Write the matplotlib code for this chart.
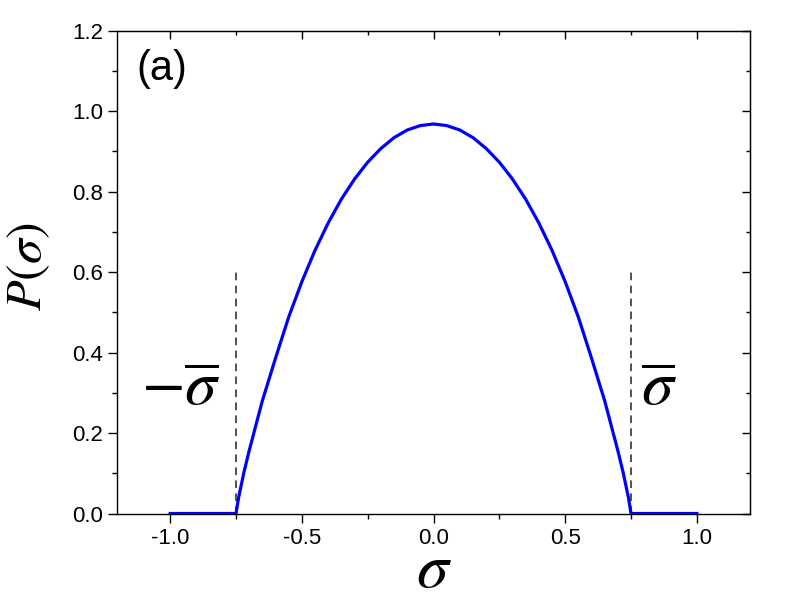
"""Panel (a): distribution P(sigma), bounded at +/- sigma-bar."""
import matplotlib

matplotlib.use("Agg")

import matplotlib.pyplot as plt
from matplotlib.ticker import FixedLocator, MultipleLocator

# values
SIGMA = [-1.0, -0.75, -0.74, -0.72, -0.70, -0.65, -0.60, -0.55, -0.50, -0.45,
         -0.40, -0.35, -0.30, -0.25, -0.20, -0.15, -0.10, -0.05, 0.0,
         0.05, 0.10, 0.15, 0.20, 0.25, 0.30, 0.35, 0.40, 0.45, 0.50,
         0.55, 0.60, 0.65, 0.70, 0.72, 0.74, 0.75, 1.0]
P_SIGMA = [0.0, 0.0, 0.040, 0.102, 0.156, 0.280, 0.386, 0.488, 0.576, 0.654,
           0.722, 0.781, 0.831, 0.873, 0.907, 0.934, 0.953, 0.964, 0.968,
           0.964, 0.953, 0.934, 0.907, 0.873, 0.831, 0.781, 0.722, 0.654, 0.576,
           0.488, 0.386, 0.280, 0.156, 0.102, 0.040, 0.0, 0.0]
SIGMA_BAR = 0.75
BAR_HEIGHT = 0.6
X_TICKS = [-1.0, -0.5, 0.0, 0.5, 1.0]
Y_TICKS = [0.0, 0.2, 0.4, 0.6, 0.8, 1.0, 1.2]

plt.rcParams["font.family"] = ["Liberation Sans", "DejaVu Sans"]
plt.rcParams["mathtext.fontset"] = "stix"
plt.rcParams["axes.unicode_minus"] = False

fig = plt.figure(figsize=(7.89, 6.04), dpi=100)
ax = fig.add_axes([0.1489, 0.1498, 0.8011, 0.7995])

ax.plot(SIGMA, P_SIGMA, color="#0000ff", linewidth=2.3, zorder=3,
        solid_joinstyle="round")
for xb in (-SIGMA_BAR, SIGMA_BAR):
    ax.plot([xb, xb], [0, BAR_HEIGHT], color="#222222", linewidth=1.1,
            dashes=(5, 3.5), zorder=2)

ax.set_xlim(-1.2, 1.2)
ax.set_ylim(0, 1.2)
ax.xaxis.set_major_locator(FixedLocator(X_TICKS))
ax.xaxis.set_minor_locator(MultipleLocator(0.25))
ax.yaxis.set_major_locator(FixedLocator(Y_TICKS))
ax.yaxis.set_minor_locator(MultipleLocator(0.1))
ax.set_xticklabels([f"{v:.1f}" for v in X_TICKS])
ax.set_yticklabels([f"{v:.1f}" for v in Y_TICKS])

# bottom/left ticks point out, top/right ones point in
ax.tick_params(which="major", direction="out", length=6.5, width=1.0,
               labelsize=16, pad=4)
ax.tick_params(which="minor", direction="out", length=3.5, width=1.0)
for spine in ax.spines.values():
    spine.set_linewidth(1.0)

top = ax.secondary_xaxis("top")
top.xaxis.set_major_locator(FixedLocator(X_TICKS))
top.xaxis.set_minor_locator(MultipleLocator(0.25))
top.tick_params(which="major", direction="in", length=6, width=1.0, labeltop=False)
top.tick_params(which="minor", direction="in", length=3, width=1.0)

right = ax.secondary_yaxis("right")
right.yaxis.set_major_locator(FixedLocator(Y_TICKS))
right.yaxis.set_minor_locator(MultipleLocator(0.1))
right.tick_params(which="major", direction="in", length=6, width=1.0, labelright=False)
right.tick_params(which="minor", direction="in", length=3, width=1.0)

ax.set_xlabel(r"$\sigma$", fontsize=46, va="center")
ax.xaxis.set_label_coords(0.5, -0.117)
ax.set_ylabel(r"$P(\sigma)$", fontsize=36, va="center")
ax.yaxis.set_label_coords(-0.14, 0.51)

ax.text(-0.958, 0.31, r"$-\overline{\sigma}$", fontsize=46,
        ha="center", va="center")
ax.text(0.856, 0.31, r"$\overline{\sigma}$", fontsize=46,
        ha="center", va="center")
ax.text(-1.032, 1.104, "(a)", fontsize=30, ha="center", va="center")

fig.savefig("out.png", dpi=100)
